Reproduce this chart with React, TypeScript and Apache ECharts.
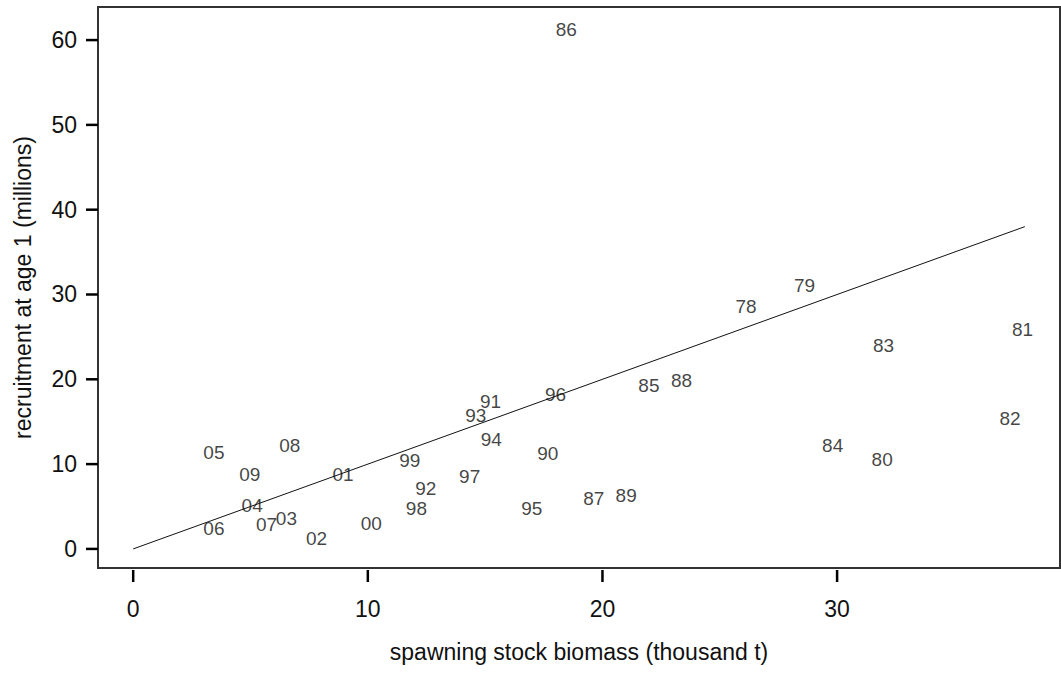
import React, { useEffect, useRef } from "react";
import * as echarts from "echarts";

const years = ["86","78","79","81","83","82","84","80","85","88","96","91","93","94","90","97","92","98","95","87","89","99","00","01","02","03","07","04","06","09","05","08"];
const ssb = [18.46,26.12,28.61,37.9,31.98,37.37,29.81,31.92,21.98,23.37,18.0,15.23,14.6,15.26,17.67,14.34,12.47,12.07,16.99,19.63,21.01,11.79,10.15,8.94,7.81,6.53,5.68,5.07,3.44,4.97,3.44,6.67];
const recruits = [61.2,28.58,31.06,25.9,23.98,15.41,12.19,10.5,19.23,19.85,18.25,17.37,15.69,12.94,11.2,8.53,7.16,4.8,4.8,5.9,6.29,10.38,3.03,8.73,1.26,3.54,2.9,5.11,2.44,8.73,11.36,12.19];
const fitX = [0, 38];
const fitY = [0, 38];
const xTicks = [0, 10, 20, 30];
const yTicks = [0, 10, 20, 30, 40, 50, 60];
const X_MIN = -1.5, X_MAX = 39.5, Y_MIN = -2.25, Y_MAX = 63.9;

const FONT = "'Liberation Sans', Arial, sans-serif";
const TICK = { stroke: "#000", lineWidth: 2.5 };

export default function App() {
  const ref = useRef<HTMLDivElement>(null);
  useEffect(() => {
    document.body.style.margin = "0";
    const chart = echarts.init(ref.current!, null, { renderer: "svg" });
    chart.setOption({
      animation: false,
      grid: { left: 98, right: 1, top: 7, bottom: 105, show: true, borderColor: "#333", borderWidth: 2, backgroundColor: "transparent" },
      xAxis: {
        type: "value", min: X_MIN, max: X_MAX,
        axisLine: { show: true, onZero: false, lineStyle: { color: "#333", width: 2 } },
        splitLine: { show: false },
        axisTick: { show: false },
        axisLabel: { show: true, customValues: xTicks, margin: 29, fontSize: 23, color: "#111", fontFamily: FONT },
        name: "spawning stock biomass (thousand t)", nameLocation: "middle", nameGap: 72,
        nameTextStyle: { fontSize: 23, color: "#111", fontFamily: FONT },
      },
      yAxis: {
        type: "value", min: Y_MIN, max: Y_MAX,
        axisLine: { show: true, onZero: false, lineStyle: { color: "#333", width: 2 } },
        splitLine: { show: false },
        axisTick: { show: false },
        axisLabel: { show: true, customValues: yTicks, margin: 21, fontSize: 23, color: "#111", fontFamily: FONT },
        name: "recruitment at age 1 (millions)", nameLocation: "middle", nameGap: 64, nameRotate: 90,
        nameTextStyle: { fontSize: 23, color: "#111", fontFamily: FONT },
      },
      series: [
        {
          type: "line",
          data: fitX.map((x, i) => [x, fitY[i]]),
          symbol: "none",
          lineStyle: { color: "#111", width: 1 },
          silent: true,
        },
        {
          type: "scatter",
          symbolSize: 0,
          data: years.map((y, i) => ({ name: y, value: [ssb[i], recruits[i]] })),
          label: { show: true, position: "inside", formatter: "{b}", fontSize: 19, color: "#111", fontFamily: FONT },
        },
      ],
    });
    const ticks: any[] = [];
    xTicks.forEach((v) => {
      const p = chart.convertToPixel({ gridIndex: 0 }, [v, Y_MIN]) as number[];
      ticks.push({ type: "line", silent: true, z: 100, shape: { x1: p[0], y1: p[1] + 2, x2: p[0], y2: p[1] + 14 }, style: TICK });
    });
    yTicks.forEach((v) => {
      const p = chart.convertToPixel({ gridIndex: 0 }, [X_MIN, v]) as number[];
      ticks.push({ type: "line", silent: true, z: 100, shape: { x1: p[0] - 12, y1: p[1], x2: p[0], y2: p[1] }, style: TICK });
    });
    chart.setOption({ graphic: ticks });
    return () => chart.dispose();
  }, []);
  return <div ref={ref} style={{ width: 1061, height: 673 }} />;
}
